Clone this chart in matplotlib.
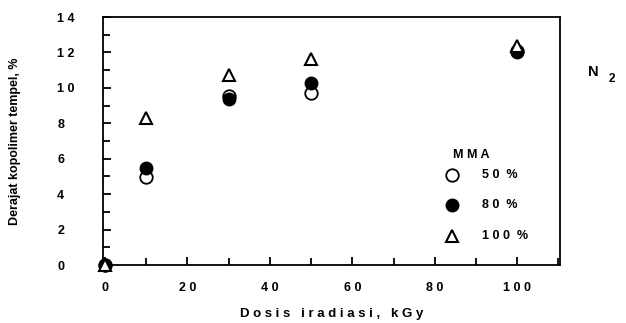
import matplotlib.pyplot as plt
from matplotlib.ticker import MultipleLocator

plt.rcParams['font.family'] = ['Liberation Sans', 'DejaVu Sans']
plt.rcParams['font.weight'] = 'bold'
plt.rcParams['axes.labelweight'] = 'bold'

dosis = [0, 10, 30, 50, 100]
mma_50 = [0, 4.95, 9.55, 9.7, 12.1]
mma_80 = [0, 5.5, 9.35, 10.25, 12.05]
mma_100 = [0, 8.3, 10.75, 11.65, 12.35]
xtick_labels = ['0', '2 0', '4 0', '6 0', '8 0', '1 0 0']
ytick_labels = ['0', '2', '4', '6', '8', '1 0', '1 2', '1 4']

fig = plt.figure(figsize=(6.26, 3.23), dpi=100)
ax = fig.add_axes([103/626, 1-265/323, 457/626, 248/323])

ax.plot(dosis, mma_100, '^', ms=8, mfc='white', mec='black', mew=1.5, zorder=3, clip_on=False)
ax.plot(dosis, mma_50, 'o', ms=9, mfc='white', mec='black', mew=1.3, zorder=2, clip_on=False)
ax.plot(dosis, mma_80, 'o', ms=9, mfc='black', mec='black', zorder=2, clip_on=False)

ax.set_xlim(-0.5, 110.4)
ax.set_ylim(0, 14)
ax.set_xticks(range(0, 101, 20))
ax.set_xticklabels(xtick_labels)
ax.set_yticks(range(0, 15, 2))
ax.set_yticklabels(ytick_labels, ha='left')
ax.xaxis.set_minor_locator(MultipleLocator(10))
ax.yaxis.set_minor_locator(MultipleLocator(1))
ax.tick_params(which='both', direction='in', top=False, right=False, width=1.3)
ax.tick_params(which='major', length=6, labelsize=9, pad=12)
ax.tick_params(which='minor', length=5)
ax.tick_params(axis='y', pad=33)
for s in ax.spines.values():
    s.set_linewidth(1.3)

ax.set_xlabel('D o s i s   i r a d i a s i ,   k G y', fontsize=9.5, labelpad=10)
ax.set_ylabel('Derajat kopolimer tempel, %', fontsize=9)
ax.yaxis.set_label_coords(-0.18, 0.5)

# legend drawn by hand like the original
ax.text(84.5, 6.2, 'M M A', fontsize=9, va='center')
ax.plot([84.3], [5.1], 'o', ms=9, mfc='white', mec='black', mew=1.3)
ax.plot([84.3], [3.4], 'o', ms=9, mfc='black', mec='black')
ax.plot([84.3], [1.65], '^', ms=8, mfc='white', mec='black', mew=1.5)
ax.text(91.5, 5.1, '5 0  %', fontsize=9, va='center')
ax.text(91.5, 3.4, '8 0  %', fontsize=9, va='center')
ax.text(91.5, 1.65, '1 0 0  %', fontsize=9, va='center')

fig.text(593/626, 1-72/323, 'N', fontsize=10.5, ha='center', va='center')
fig.text(612/626, 1-79/323, '2', fontsize=8.5, ha='center', va='center')

plt.savefig('out.png', dpi=100)
